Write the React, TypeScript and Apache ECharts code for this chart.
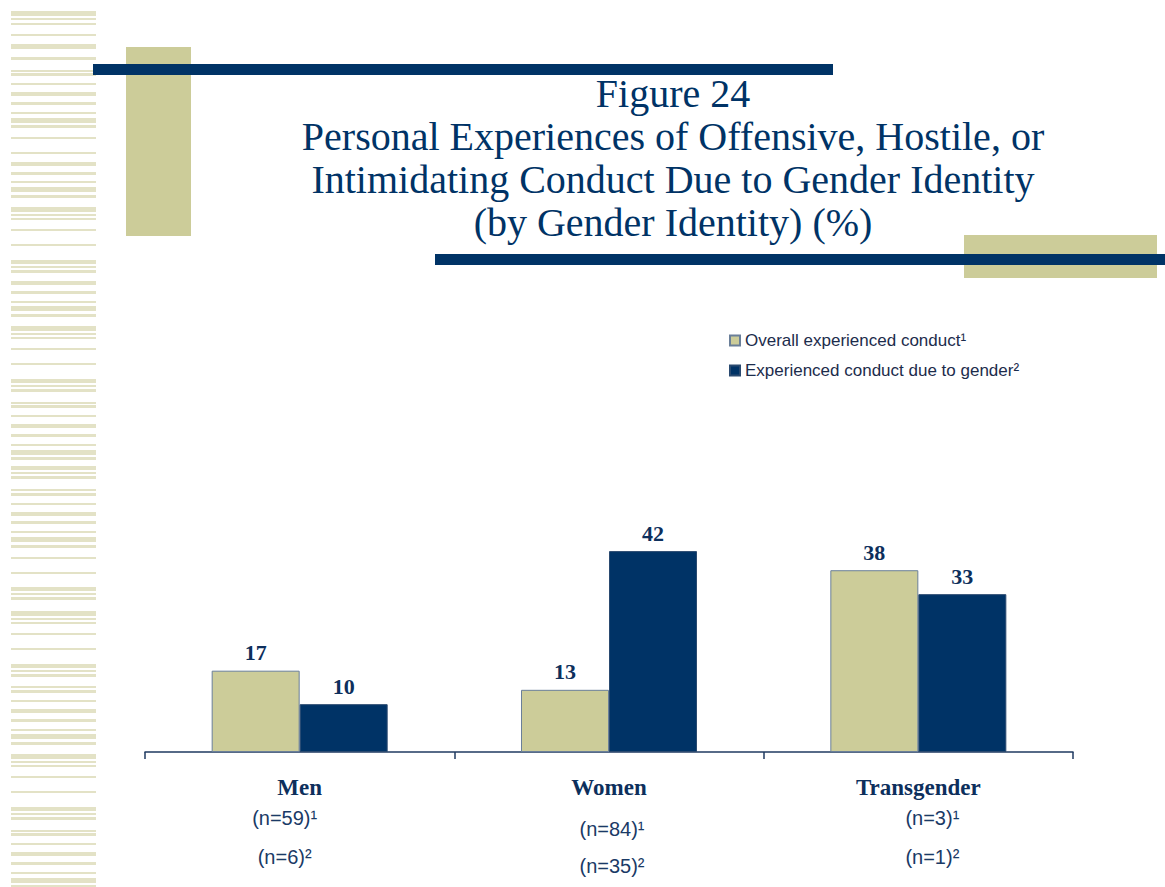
import React, { useEffect, useRef } from "react";
import * as echarts from "echarts";

// ---- data ----
const CATEGORIES = ["Men", "Women", "Transgender"];
const SERIES_NAMES = ["Overall experienced conduct¹", "Experienced conduct due to gender²"];
const OVERALL = [17, 13, 38];
const DUE_TO_GENDER = [10, 42, 33];
const N_OVERALL = ["(n=59)¹", "(n=84)¹", "(n=3)¹"];
const N_GENDER = ["(n=6)²", "(n=35)²", "(n=1)²"];
const TITLE_LINES = [
  "Figure 24",
  "Personal Experiences of Offensive, Hostile, or",
  "Intimidating Conduct Due to Gender Identity",
  "(by Gender Identity) (%)",
];

// ---- layout / decoration (not data) ----
const N_LAYOUT = [
  { dx: -15, y1: 818, y2: 857 },
  { dx: 3, y1: 829, y2: 866 },
  { dx: 14, y1: 818, y2: 857 },
];
const STRIPES: [number, number][] = [
  [11, 5], [18, 2], [23, 2], [34, 2], [44, 5], [57, 3], [70, 2], [73, 3], [83, 2], [92, 4],
  [102, 3], [112, 2], [118, 5], [125, 3], [137, 2], [152, 2], [162, 4], [172, 3], [181, 2],
  [187, 5], [195, 3], [207, 5], [214, 2], [218, 2], [229, 2], [244, 2], [260, 4], [266, 2],
  [270, 3], [281, 4], [291, 3], [301, 2], [306, 5], [314, 3], [326, 5], [333, 2], [337, 2],
  [348, 2], [363, 2], [379, 4], [385, 2], [389, 3], [402, 2], [405, 3], [415, 2], [424, 4],
  [434, 3], [444, 2], [450, 5], [457, 3], [466, 4], [472, 2], [476, 3], [489, 2], [493, 3],
  [503, 2], [512, 4], [521, 3], [531, 2], [537, 5], [545, 3], [557, 2], [572, 2], [587, 4],
  [593, 2], [597, 3], [611, 5], [618, 2], [622, 2], [633, 2], [648, 2], [664, 4], [670, 2],
  [674, 3], [686, 2], [690, 3], [700, 2], [709, 4], [719, 3], [729, 2], [734, 5], [742, 3],
  [754, 5], [761, 2], [765, 2], [776, 2], [791, 2], [807, 4], [813, 2], [817, 3], [830, 2],
  [833, 3], [843, 2], [852, 4], [862, 3], [872, 2], [878, 5], [885, 2],
];

const NAVY = "#003366";
const BEIGE = "#CCCC99";
const TEXT_NAVY = "#0d2f5c";

export default function App() {
  const ref = useRef<HTMLDivElement>(null);

  useEffect(() => {
    if (!ref.current) return;
    const chart = echarts.init(ref.current, undefined, { renderer: "svg" });

    const labelShadow = {
      textShadowColor: "rgba(120,130,150,0.55)",
      textShadowOffsetX: 1.5,
      textShadowOffsetY: 1.5,
      textShadowBlur: 0,
    };

    chart.setOption({
      animation: false,
      backgroundColor: "#ffffff",
      grid: { left: 145, right: 92, top: 465, bottom: 135 },
      legend: {
        orient: "vertical",
        left: 729,
        top: 332,
        padding: 0,
        itemWidth: 10,
        itemHeight: 10,
        itemGap: 13,
        icon: "rect",
        textStyle: { fontFamily: "Liberation Sans", fontSize: 17, color: "#1c2c4c" },
        data: SERIES_NAMES,
      },
      xAxis: {
        type: "category",
        data: CATEGORIES,
        axisLine: { lineStyle: { color: "#1f3a60", width: 1.5 } },
        axisTick: { show: true, length: 7, lineStyle: { color: "#1f3a60", width: 1.5 } },
        axisLabel: {
          margin: 24,
          fontFamily: "Liberation Serif",
          fontWeight: "bold",
          fontSize: 23,
          color: TEXT_NAVY,
          ...labelShadow,
        },
      },
      yAxis: { type: "value", min: 0, max: 60, show: false, splitLine: { show: false } },
      series: [
        {
          name: SERIES_NAMES[0],
          type: "bar",
          data: OVERALL,
          barWidth: 88,
          barGap: "0%",
          itemStyle: { color: BEIGE, borderColor: "#6a7f99", borderWidth: 1 },
          label: {
            show: true,
            position: "top",
            distance: 7,
            fontFamily: "Liberation Serif",
            fontWeight: "bold",
            fontSize: 22,
            color: TEXT_NAVY,
            ...labelShadow,
          },
        },
        {
          name: SERIES_NAMES[1],
          type: "bar",
          data: DUE_TO_GENDER,
          barWidth: 88,
          barGap: "0%",
          itemStyle: { color: NAVY, borderColor: "#2a4a70", borderWidth: 1 },
          label: {
            show: true,
            position: "top",
            distance: 7,
            fontFamily: "Liberation Serif",
            fontWeight: "bold",
            fontSize: 22,
            color: TEXT_NAVY,
            ...labelShadow,
          },
        },
      ],
    });

    const elements: any[] = [];
    STRIPES.forEach(([y, h]) => {
      elements.push({
        type: "rect",
        shape: { x: 11, y, width: 85, height: h },
        style: { fill: "#E3E2C6" },
        silent: true,
      });
    });
    elements.push({ type: "rect", shape: { x: 126, y: 47, width: 65, height: 189 }, style: { fill: BEIGE } });
    elements.push({ type: "rect", shape: { x: 93, y: 64, width: 740, height: 11 }, style: { fill: NAVY } });
    elements.push({ type: "rect", shape: { x: 964, y: 235, width: 193, height: 43 }, style: { fill: BEIGE } });
    elements.push({ type: "rect", shape: { x: 435, y: 254, width: 730, height: 11 }, style: { fill: NAVY } });
    TITLE_LINES.forEach((t, i) => {
      elements.push({
        type: "text",
        x: 673,
        y: 93 + i * 43,
        style: {
          text: t,
          fill: NAVY,
          fontFamily: "Liberation Serif",
          fontSize: 40,
          align: "center",
          verticalAlign: "middle",
        },
      });
    });
    CATEGORIES.forEach((c, i) => {
      const px = chart.convertToPixel({ xAxisIndex: 0 }, c) as number;
      const lay = N_LAYOUT[i];
      [N_OVERALL[i], N_GENDER[i]].forEach((t, j) => {
        elements.push({
          type: "text",
          x: px + lay.dx,
          y: j === 0 ? lay.y1 : lay.y2,
          style: {
            text: t,
            fill: "#1a3a66",
            fontFamily: "Liberation Sans",
            fontSize: 20,
            align: "center",
            verticalAlign: "middle",
          },
        });
      });
    });
    chart.setOption({ graphic: { elements } });

    return () => chart.dispose();
  }, []);

  return (
    <div
      ref={ref}
      style={{ position: "fixed", left: 0, top: 0, width: 1165, height: 887 }}
    />
  );
}
